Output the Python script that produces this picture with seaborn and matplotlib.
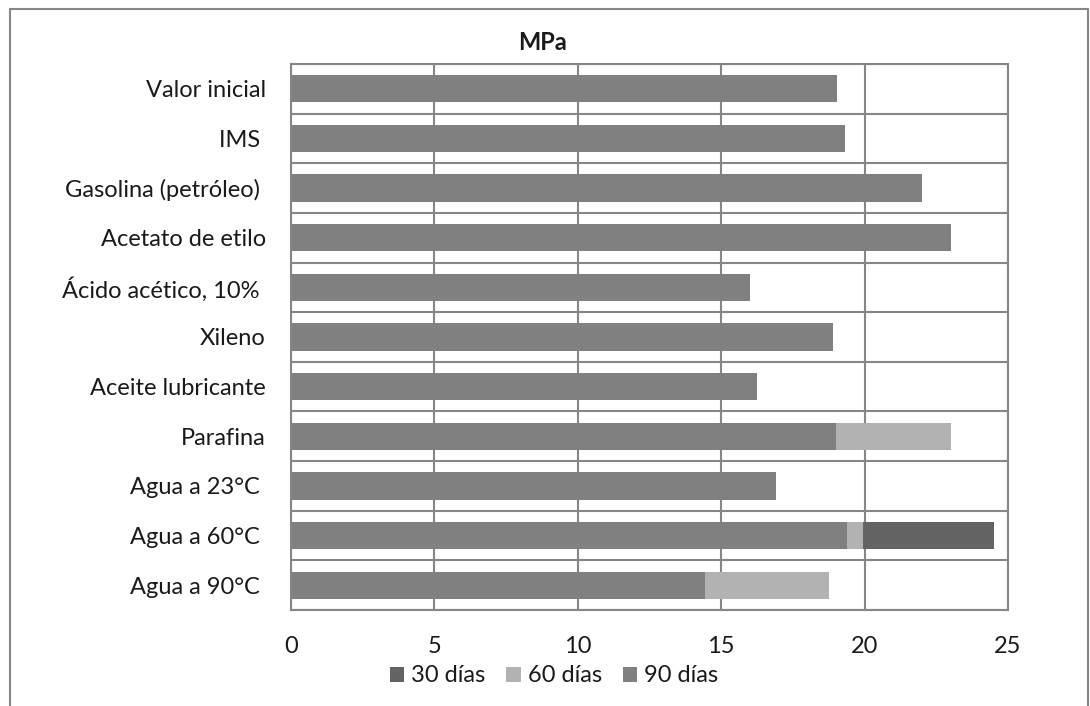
import numpy as np
import pandas as pd
import matplotlib
matplotlib.use("Agg")
import matplotlib.pyplot as plt
from matplotlib.lines import Line2D
from matplotlib.patches import Patch
import seaborn as sns

categories = ["Valor inicial", "IMS ", "Gasolina (petróleo) ", "Acetato de etilo",
              "Ácido acético, 10% ", "Xileno", "Aceite lubricante", "Parafina",
              "Agua a 23°C ", "Agua a 60°C ", "Agua a 90°C "]
series_names = ["30 días", "60 días", "90 días"]
dias30 = [19.05, 19.3, 22.0, 23.0, 16.0, 18.9, 16.25, 19.0, 16.9, 24.5, 14.45]
dias60 = [19.05, 19.3, 22.0, 23.0, 16.0, 18.9, 16.25, 23.0, 16.9, 19.95, 18.75]
dias90 = [19.05, 19.3, 22.0, 23.0, 16.0, 18.9, 16.25, 19.0, 16.9, 19.4, 14.45]
xticks = [0, 5, 10, 15, 20, 25]
colors = ["#636363", "#b2b2b2", "#808080"]

rows = []
for name, vals in zip(series_names, [dias30, dias60, dias90]):
    for c, v in zip(categories, vals):
        rows.append({"cat": c, "val": v, "serie": name})
df = pd.DataFrame(rows)

sns.set_style("white")
plt.rcParams["font.family"] = ["Lato", "DejaVu Sans"]

W, H = 1090, 706
FS = 17
fig = plt.figure(figsize=(W / 100, H / 100), dpi=100)
ax = fig.add_axes([291 / W, 1 - 610 / H, (1008 - 291) / W, (610 - 64) / H])

sns.barplot(data=df, y="cat", x="val", hue="serie", hue_order=series_names,
            order=categories, palette=colors, dodge=False, orient="h",
            width=0.55, ax=ax, legend=False, saturation=1, linewidth=0)

ax.set_xlim(0, 25)
ax.set_ylim(len(categories) - 0.5, -0.5)
ax.set_xticks(xticks)
ax.set_xticklabels([str(t) for t in xticks], fontsize=FS, color="#1a1a1a")
ax.tick_params(axis="x", length=0, pad=19)

ax.set_yticks(np.arange(-0.5, len(categories), 1))
ax.set_yticklabels([])
ax.set_yticks(np.arange(len(categories)), minor=True)
ax.set_yticklabels(categories, minor=True, fontsize=FS, color="#1a1a1a")
ax.tick_params(axis="y", which="major", length=7, width=1.5, color="#868686", direction="out")
ax.tick_params(axis="y", which="minor", length=0, pad=18)

ax.grid(True, which="major", color="#868686", linewidth=1.5)
ax.set_axisbelow(True)
for s in ax.spines.values():
    s.set_visible(True)
    s.set_color("#868686")
    s.set_linewidth(1.5)
ax.set_xlabel("")
ax.set_ylabel("")

fig.text(543 / W, 1 - 42 / H, "MPa", ha="center", va="center", fontsize=FS,
         fontweight="bold", color="#1a1a1a")

handles = [Patch(facecolor=c, edgecolor="none", label=n) for c, n in zip(colors, series_names)]
fig.legend(handles=handles, loc="center", bbox_to_anchor=(554 / W, 1 - 676 / H), ncol=3,
           frameon=False, fontsize=FS, handlelength=0.6, handleheight=0.6,
           handletextpad=0.3, columnspacing=0.9, labelcolor="#1a1a1a")

# outer chart frame
fx = lambda x: x / W
fy = lambda y: 1 - y / H
fig.add_artist(Line2D([fx(9.5), fx(9.5)], [fy(706), fy(8.5)], color="#868686", lw=1.5))
fig.add_artist(Line2D([fx(9.5), fx(1088)], [fy(8.5), fy(8.5)], color="#868686", lw=1.5))
fig.add_artist(Line2D([fx(1088), fx(1088)], [fy(8.5), fy(706)], color="#868686", lw=1.5))

fig.savefig("out.png", dpi=100)
